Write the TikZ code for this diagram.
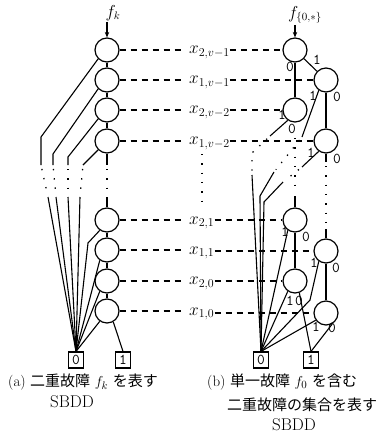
\documentclass[tikz,border=0pt]{standalone}
\usepackage{fontspec}
\newfontfamily\cjk{Noto Sans CJK JP}
\usetikzlibrary{arrows.meta}
\begin{document}
\begin{tikzpicture}[x=1pt,y=-1pt,
  every node/.style={inner sep=0pt},
  vnode/.style={circle,draw,line width=1.2pt,minimum size=24pt},
  term/.style={rectangle,draw,line width=1.1pt,minimum width=15pt,minimum height=16pt,font=\fontsize{15}{15}\ttfamily},
  conn/.style={line width=1.1pt},
  dashline/.style={line width=1.1pt,dash pattern=on 6pt off 5pt},
  dotline/.style={line width=1.3pt,dash pattern=on 1.3pt off 8pt,shorten <=4pt,shorten >=3pt},
  elab/.style={font=\fontsize{15}{15}\ttfamily},
  vlab/.style={font=\fontsize{17}{17}\selectfont,anchor=base west},
  arr/.style={line width=1.1pt,-{Stealth[length=5.5pt,width=4.5pt]}},
  captxt/.style={font=\fontsize{15}{17}\selectfont},
]
\useasboundingbox (0,0) rectangle (384,434);

% ---------- left SBDD ----------
\node[vnode] (L1) at (107,50) {};
\node[vnode] (L2) at (107,80) {};
\node[vnode] (L3) at (107,110) {};
\node[vnode] (L4) at (107,141) {};
\node[vnode] (L5) at (107,220) {};
\node[vnode] (L6) at (107,250) {};
\node[vnode] (L7) at (107,281) {};
\node[vnode] (L8) at (107,311) {};
\node[term] (T0a) at (76,360) {0};
\node[term] (T1a) at (123,360) {1};
\node[font=\fontsize{16}{16}\selectfont] (fk) at (113,13) {$f_k$};
\draw[arr] (fk.south -| L1) ++(0,1) -- (L1.north);

% ---------- variable labels ----------
\node[vlab] (X1) at (189,53.5) {$x_{2,v-1}$};
\node[vlab] (X2) at (189,83.5) {$x_{1,v-1}$};
\node[vlab] (X3) at (189,113.5) {$x_{2,v-2}$};
\node[vlab] (X4) at (189,144.5) {$x_{1,v-2}$};
\node[vlab] (X5) at (189,224) {$x_{2,1}$};
\node[vlab] (X6) at (189,254) {$x_{1,1}$};
\node[vlab] (X7) at (189,284.5) {$x_{2,0}$};
\node[vlab] (X8) at (189,315) {$x_{1,0}$};

% ---------- right SBDD ----------
\node[vnode] (A1) at (295,50) {};
\node[vnode] (B1) at (326,80) {};
\node[vnode] (A2) at (295,110) {};
\node[vnode] (B2) at (326,141) {};
\node[vnode] (A3) at (295,220) {};
\node[vnode] (B3) at (326,251) {};
\node[vnode] (A4) at (295,281) {};
\node[vnode] (B4) at (326,313) {};
\node[term] (T0b) at (261,360) {0};
\node[term] (T1b) at (311,360) {1};
\node[font=\fontsize{16}{16}\selectfont] (fs) at (305,15) {$f_{\{0,*\}}$};
\draw[arr] (fs.south -| A1) ++(0,1) -- (A1.north);

% dashed level lines
\foreach \l/\x/\r in {L1/X1/A1,L2/X2/B1,L3/X3/A2,L4/X4/B2,L5/X5/A3,L6/X6/B3,L7/X7/A4,L8/X8/B4}{
  \draw[dashline,shorten >=4pt] (\l.east) -- (\l -| \x.west);
  \draw[dashline] (\x.east |- \r) -- (\r.west);
}
% vertical ellipsis under the labels
\coordinate (dv1) at (202,150);
\coordinate (dv2) at (202,210);
\draw[dotline] (dv1) -- (dv2);

% ---------- left edges ----------
\draw[conn] (L1) -- (L2);
\draw[conn] (L2) -- (L3);
\draw[conn] (L3) -- (L4);
\coordinate (c1) at (107,165);
\coordinate (c2) at (107,197);
\draw[conn] (L4.south) -- (c1);
\draw[dotline] (c1) -- (c2);
\draw[conn] (c2) -- (L5.north);
\draw[conn] (L5) -- (L6);
\draw[conn] (L6) -- (L7);
\draw[conn] (L7) -- (L8);
\draw[conn] (L8.300) -- (T1a.north);

\coordinate (a1) at (41,137);  \coordinate (a1b) at (41,165);  \coordinate (a1c) at (48,197);
\coordinate (a2) at (53,154);  \coordinate (a2b) at (53,165);  \coordinate (a2c) at (56,197);
\coordinate (a3) at (68,157);  \coordinate (a3b) at (68,165);  \coordinate (a3c) at (68,197);
\coordinate (a4b) at (83,165); \coordinate (a4c) at (80,197);
\draw[conn] (L1.225) -- (a1) -- (a1b);
\draw[conn] (L2.225) -- (a2) -- (a2b);
\draw[conn] (L3.225) -- (a3) -- (a3b);
\draw[conn] (L4.225) -- (a4b);
\draw[dotline] (a1b) -- (a1c);
\draw[dotline] (a2b) -- (a2c);
\draw[dotline] (a3b) -- (a3c);
\draw[dotline] (a4b) -- (a4c);
\draw[conn] (a1c) -- (T0a.north);
\draw[conn] (a2c) -- (T0a.north);
\draw[conn] (a3c) -- (T0a.north);
\draw[conn] (a4c) -- (T0a.north);
\coordinate (k5) at (88,243);
\draw[conn] (L5.235) -- (k5) -- (T0a.north);
\draw[conn] (L6.235) -- (T0a.north);
\draw[conn] (L7.235) -- (T0a.north);
\draw[conn] (L8.235) -- (T0a.north);

% ---------- right edges ----------
\draw[conn] (A1) -- (A2);
\node[elab] (e01) at (290,67) {0};
\draw[conn] (A1) -- (B1);
\node[elab] (e02) at (317,60) {1};
\draw[conn] (B1) -- (B2);
\node[elab] (e03) at (337,97) {0};
% B1 1-edge
\coordinate (p1) at (302,137); \coordinate (p2) at (274,172); \coordinate (p3) at (260,196);
\draw[conn] (B1.235) -- (p1);
\node[elab] (e04) at (313,96) {1};
\draw[dotline] (p1) -- (p2);
\draw[conn] (p2) -- (p3) -- (T0b.north);
% A2 1-edge
\coordinate (q1) at (270,136); \coordinate (q2) at (252,153); \coordinate (q3) at (252,175);
\draw[conn] (A2.235) -- (q1);
\node[elab] (e05) at (282,115) {1};
\draw[dotline] (q1) -- (q2) -- (q3);
\draw[conn] (q3) -- (T0b.north);
% A2 0-edge
\node[elab] (e06) at (292,129) {0};
\coordinate (r0) at (295,134); \coordinate (r1) at (295,196);
\draw[dotline] (r0) -- (r1);
\draw[conn] (r1) -- (A3.north);
% B2 0-edge
\node[elab] (e07) at (337,159) {0};
\coordinate (s0) at (326,162); \coordinate (s1) at (326,229);
\draw[conn] (B2.south) -- (s0);
\draw[dotline] (s0) -- (s1);
\draw[conn] (s1) -- (B3.north);
% B2 1-edge
\coordinate (t1) at (302,167); \coordinate (t2) at (283,182); \coordinate (t3) at (264,202);
\draw[conn] (B2.235) -- (t1);
\node[elab] (e08) at (311,153) {1};
\draw[dotline] (t1) -- (t2);
\draw[conn] (t2) -- (t3) -- (T0b.north);
% A3
\draw[conn] (A3) -- (A4);
\node[elab] (e09) at (306,237) {0};
\draw[conn] (A3.235) -- (T0b.north);
\node[elab] (e10) at (285,232) {1};
% B3
\draw[conn] (B3) -- (B4);
\node[elab] (e11) at (336,268) {0};
\coordinate (u1) at (310,300);
\draw[conn] (B3.235) -- (u1) -- (T0b.north);
\node[elab] (e12) at (314,263) {1};
% A4
\draw[conn] (A4.235) -- (T0b.north);
\draw[conn] (A4.290) -- (T1b.north);
\node[elab] (e13) at (290,301) {1};
\node[elab] (e14) at (299,301) {0};
% B4
\draw[conn] (B4.215) -- (T0b.north);
\draw[conn] (B4.300) -- (T1b.north);
\node[elab] (e15) at (316,327) {1};
\node[elab] (e16) at (332,328) {0};

% ---------- captions ----------
\node[captxt,anchor=west] (capA) at (8,382) {(a) {\cjk 二重故障} $f_k$ {\cjk を表す}};
\node[font=\fontsize{17}{17}\selectfont] (capA2) at (72,402) {SBDD};
\node[captxt,anchor=west] (capB) at (207,382) {(b) {\cjk 単一故障} $f_0$ {\cjk を含む}};
\node[captxt,anchor=west] (capB2) at (227,405) {\cjk 二重故障の集合を表す};
\node[font=\fontsize{17}{17}\selectfont] (capB3) at (294,425) {SBDD};
\end{tikzpicture}
\end{document}
